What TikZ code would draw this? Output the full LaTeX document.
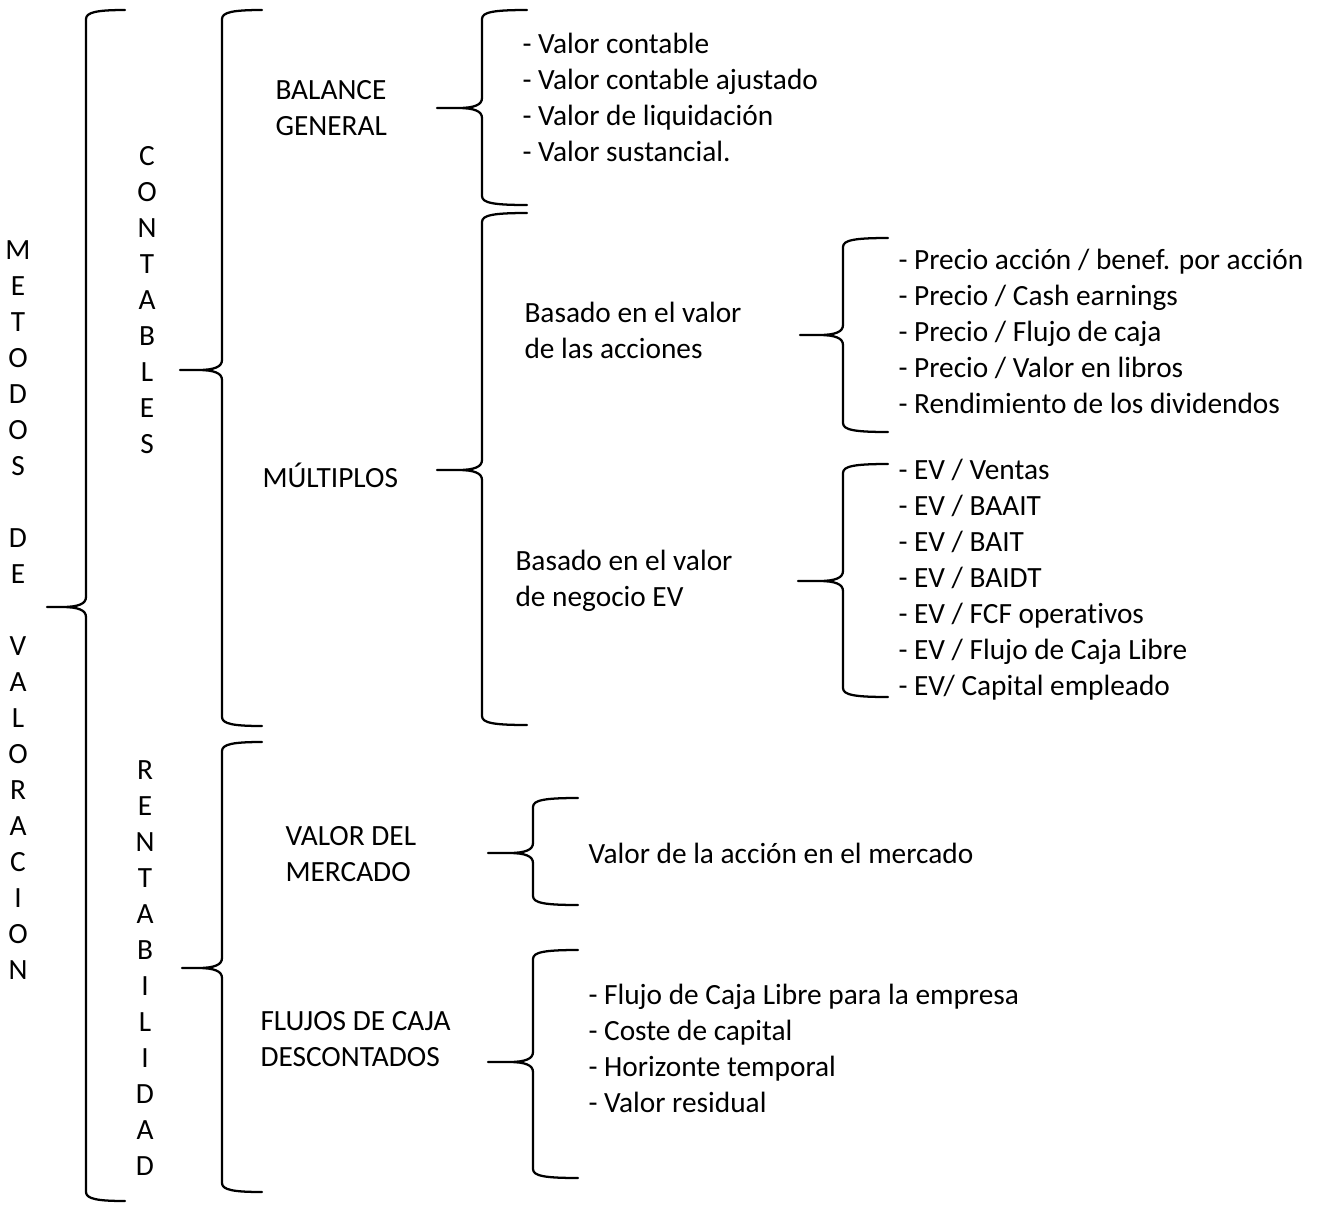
\documentclass[tikz,border=0pt]{standalone}
\usepackage{fontspec}
\setmainfont[Ligatures={NoCommon}]{Carlito}
\newcommand\mybrace[6]{% #1 xend, #2 ytop, #3 ybot, #4 xv, #5 ytip, #6 xtip
  \draw[bracestyle] (#1,#2) .. controls (#4+12,#2) and (#4,#2+2) .. (#4,#2+9)
    -- (#4,#5-10) .. controls (#4,#5-3) and (#4-8,#5) .. (#4-24,#5) -- (#6,#5)
    (#4-24,#5) .. controls (#4-8,#5) and (#4,#5+3) .. (#4,#5+10)
    -- (#4,#3-9) .. controls (#4,#3-2) and (#4+12,#3) .. (#1,#3);}
\begin{document}
\begin{tikzpicture}[x=0.375pt,y=-0.375pt,
  bracestyle/.style={line width=0.85pt,line cap=round,line join=round},
  txt/.style={inner sep=0pt,anchor=west,align=left,font=\fontsize{11pt}{13.5pt}\selectfont},
  vtxt/.style={inner sep=0pt,anchor=center,align=center,font=\fontsize{11pt}{13.5pt}\selectfont}]
\useasboundingbox (0,0) rectangle (1324,1205);
% braces
\mybrace{125}{10}{1201}{86}{607}{47}
\mybrace{262}{10}{726}{222}{370}{180}
\mybrace{262}{742}{1192}{222}{968}{182}
\mybrace{527}{10}{205}{482}{108}{437}
\mybrace{527}{213}{725}{482}{470}{437}
\mybrace{888}{238}{432}{843}{335}{800}
\mybrace{888}{464}{697}{843}{581}{798}
\mybrace{578}{798}{905}{533}{853}{488}
\mybrace{578}{950}{1178}{533}{1062}{488}
% vertical labels
\node[vtxt] (metodos) at (18,610) {M\\E\\T\\O\\D\\O\\S\\\mbox{}\\D\\E\\\mbox{}\\V\\A\\L\\O\\R\\A\\C\\I\\O\\N};
\node[vtxt] (contables) at (147,300) {C\\O\\N\\T\\A\\B\\L\\E\\S};
\node[vtxt] (rentab) at (145,968) {R\\E\\N\\T\\A\\B\\I\\L\\I\\D\\A\\D};
% level 2
\node[txt] (balance) at (275,108) {BALANCE\\GENERAL};
\node[txt] (multiplos) at (262,475) {MÚLTIPLOS};
\node[txt] (mercado) at (285,854) {VALOR DEL\\MERCADO};
\node[txt] (flujos) at (260,1039) {FLUJOS DE CAJA\\DESCONTADOS};
% level 3
\node[txt] (listbal) at (522,97) {- Valor contable\\- Valor contable ajustado\\- Valor de liquidación\\- Valor sustancial.};
\node[txt] (acciones) at (524,330) {Basado en el valor\\de las acciones};
\node[txt] (negocio) at (515,581) {Basado en el valor\\de negocio EV};
\node[txt] (accmerc) at (588,853) {Valor de la acción en el mercado};
\node[txt] (listflu) at (588,1048) {- Flujo de Caja Libre para la empresa\\- Coste de capital\\- Horizonte temporal\\- Valor residual};
% level 4
\node[txt] (listacc) at (898,331) {- Precio acción / benef. por acción\\- Precio / Cash earnings\\- Precio / Flujo de caja\\- Precio / Valor en libros\\- Rendimiento de los dividendos};
\node[txt] (listev) at (898,580) {- EV / Ventas\\- EV / BAAIT\\- EV / BAIT\\- EV / BAIDT\\- EV / FCF operativos\\- EV / Flujo de Caja Libre\\- EV/ Capital empleado};
\end{tikzpicture}
\end{document}
